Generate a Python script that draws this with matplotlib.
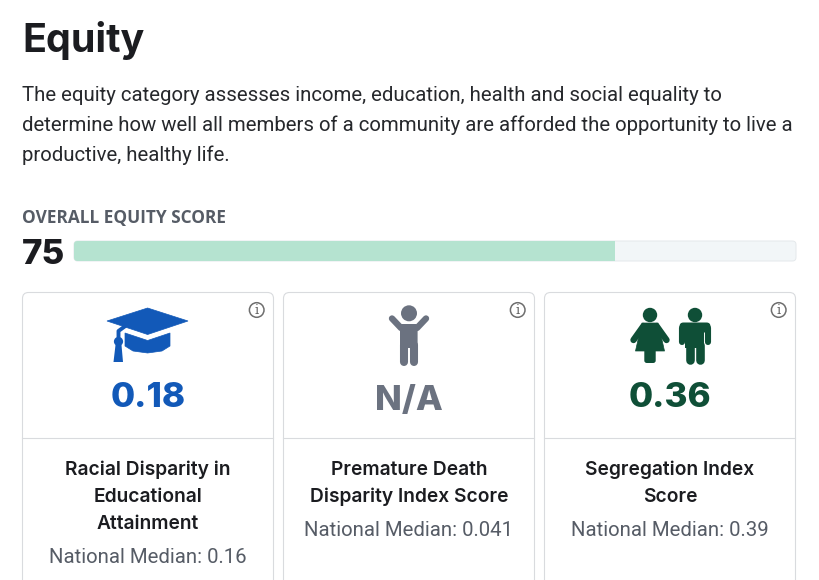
import matplotlib
matplotlib.use('Agg')
import matplotlib.pyplot as plt
from matplotlib.patches import Circle, FancyBboxPatch, Polygon, Rectangle

# values
overall_label = 'OVERALL EQUITY SCORE'
overall_score = 75
score_max = 100
card_values = ['0.18', 'N/A', '0.36']
card_titles = [
    ['Racial Disparity in', 'Educational', 'Attainment'],
    ['Premature Death', 'Disparity Index Score'],
    ['Segregation Index', 'Score'],
]
card_medians = ['National Median: 0.16', 'National Median: 0.041', 'National Median: 0.39']
card_colors = ['#1259b8', '#6b7280', '#0f4f37']
intro_lines = [
    'The equity category assesses income, education, health and social equality to',
    'determine how well all members of a community are afforded the opportunity to live a',
    'productive, healthy life.',
]

DARK = '#1b1c20'
GREY = '#565c66'
BORDER = '#d9dbde'
HEAD_FONT = 'Inter'
BODY_FONT = 'Roboto'


def px(size):
    return size * 0.72


fig = plt.figure(figsize=(8.2, 5.8), dpi=100, facecolor='white')
ax = fig.add_axes([0, 0, 1, 1])
ax.set_xlim(0, 820)
ax.set_ylim(580, 0)
ax.axis('off')

ax.text(22, 52, 'Equity', fontsize=px(39.5), fontweight='bold', family=HEAD_FONT,
        color=DARK, va='baseline', ha='left')
for i, line in enumerate(intro_lines):
    ax.text(22, 95.5 + i * 30, line, fontsize=px(20.33), family=BODY_FONT, color='#26282c',
            va='center', ha='left')

ax.text(22, 218.5, overall_label, fontsize=px(17.2), fontweight='bold', family='Open Sans',
        color=GREY, va='center', ha='left')
ax.text(22, 264, str(overall_score), fontsize=px(35), fontweight='heavy', family=HEAD_FONT,
        color=DARK, va='baseline', ha='left')

# score bar gets its own axis so the fill comes from the value
bar_ax = fig.add_axes([74 / 820, 1 - 261 / 580, 722 / 820, 20 / 580])
bar_ax.set_xlim(0, score_max)
bar_ax.set_ylim(0, 1)
bar_ax.axis('off')
track = FancyBboxPatch((0, 0), score_max, 1, boxstyle='round,pad=0,rounding_size=0.5',
                       mutation_aspect=0.36, fc='#f2f6f8', ec='#e4e8eb', lw=0.7, clip_on=False)
bar_ax.add_patch(track)
fill = bar_ax.barh(0.5, overall_score, height=1, color='#b5e3d0', zorder=2)
fill[0].set_clip_path(track)


def draw_info(cx, cy):
    ax.add_patch(Circle((cx, cy), 7.3, fc='white', ec='#6e6e6e', lw=1.1))
    ax.text(cx, cy + 0.5, 'i', fontsize=px(13), family='DejaVu Serif', color='#5c5c5c',
            ha='center', va='center')


def draw_cap(c):
    ax.add_patch(Polygon([(107, 321), (147.6, 308), (188, 321), (147.6, 334.5)], fc=c, ec=c, lw=0.5))
    ax.add_patch(Polygon([(125, 333), (147.6, 340.5), (170, 333), (170, 346), (162, 351), (147.6, 353),
                          (133, 351), (125, 346)], fc=c, ec=c, lw=0.5))
    ax.plot([124, 118.5, 118.5], [327, 331, 345], color=c, lw=2.8)
    ax.add_patch(Circle((118.5, 341.5), 4.6, fc=c, ec='none'))
    ax.add_patch(Polygon([(115.5, 345), (121.5, 345), (123, 362), (113.5, 362)], fc=c, ec='none'))


def draw_child(c):
    ax.add_patch(Circle((409, 313.3), 8, fc=c, ec='none'))
    ax.plot([392, 401], [318.5, 328], color=c, lw=4.6, solid_capstyle='round')
    ax.plot([426, 417], [318.5, 328], color=c, lw=4.6, solid_capstyle='round')
    ax.add_patch(FancyBboxPatch((400, 324), 17.6, 24, boxstyle='round,pad=0,rounding_size=2', fc=c, ec='none'))
    ax.plot([404, 404], [345, 361.5], color=c, lw=5.8, solid_capstyle='round')
    ax.plot([413.6, 413.6], [345, 361.5], color=c, lw=5.8, solid_capstyle='round')


def draw_woman(c):
    ax.add_patch(Circle((650, 315), 7.2, fc=c, ec='none'))
    ax.plot([643.5, 633.5], [326, 340], color=c, lw=4.6, solid_capstyle='round')
    ax.plot([656.5, 666.5], [326, 340], color=c, lw=4.6, solid_capstyle='round')
    ax.add_patch(Polygon([(642, 323), (658, 323), (660, 331), (664.5, 351), (635.5, 351), (640, 331)],
                         fc=c, ec=c, lw=0.5, joinstyle='round'))
    ax.add_patch(FancyBboxPatch((644.3, 348), 11.4, 15, boxstyle='round,pad=0,rounding_size=2.5', fc=c, ec='none'))


def draw_man(c):
    ax.add_patch(Circle((695, 315), 7.2, fc=c, ec='none'))
    ax.add_patch(FancyBboxPatch((679.5, 322.5), 31, 10, boxstyle='round,pad=0,rounding_size=4', fc=c, ec='none'))
    ax.plot([682.3, 682.3], [328, 342], color=c, lw=4.4, solid_capstyle='round')
    ax.plot([707.7, 707.7], [328, 342], color=c, lw=4.4, solid_capstyle='round')
    ax.add_patch(Rectangle((685.2, 324), 19.2, 24, fc=c, ec='none'))
    ax.plot([689.7, 689.7], [345, 360], color=c, lw=6.2, solid_capstyle='round')
    ax.plot([699.9, 699.9], [345, 360], color=c, lw=6.2, solid_capstyle='round')


card_lefts = [22.5, 283.5, 544.5]
card_width = 251
value_baselines = [407, 410, 407]
for left, value, base, title, median, color in zip(card_lefts, card_values, value_baselines,
                                                   card_titles, card_medians, card_colors):
    mid = left + card_width / 2
    # card runs off the bottom of the canvas
    ax.add_patch(FancyBboxPatch((left, 292.5), card_width, 320, boxstyle='round,pad=0,rounding_size=6',
                                fc='white', ec=BORDER, lw=0.8, zorder=0))
    ax.plot([left, left + card_width], [437.5, 437.5], color=BORDER, lw=0.8, zorder=1)
    draw_info(left + 234.2, 310)
    ax.text(mid, base, value, fontsize=px(35), fontweight='heavy', family=HEAD_FONT, color=color,
            ha='center', va='baseline')
    for i, line in enumerate(title):
        ax.text(mid, 470 + i * 27, line, fontsize=px(19.2), fontweight='semibold', family=HEAD_FONT,
                color=DARK, ha='center', va='center')
    ax.text(mid, 470 + len(title) * 27 + 6.5, median, fontsize=px(20.33), family=BODY_FONT, color=GREY,
            ha='center', va='center')

draw_cap(card_colors[0])
draw_child(card_colors[1])
draw_woman(card_colors[2])
draw_man(card_colors[2])

fig.savefig('out.png', dpi=100)
